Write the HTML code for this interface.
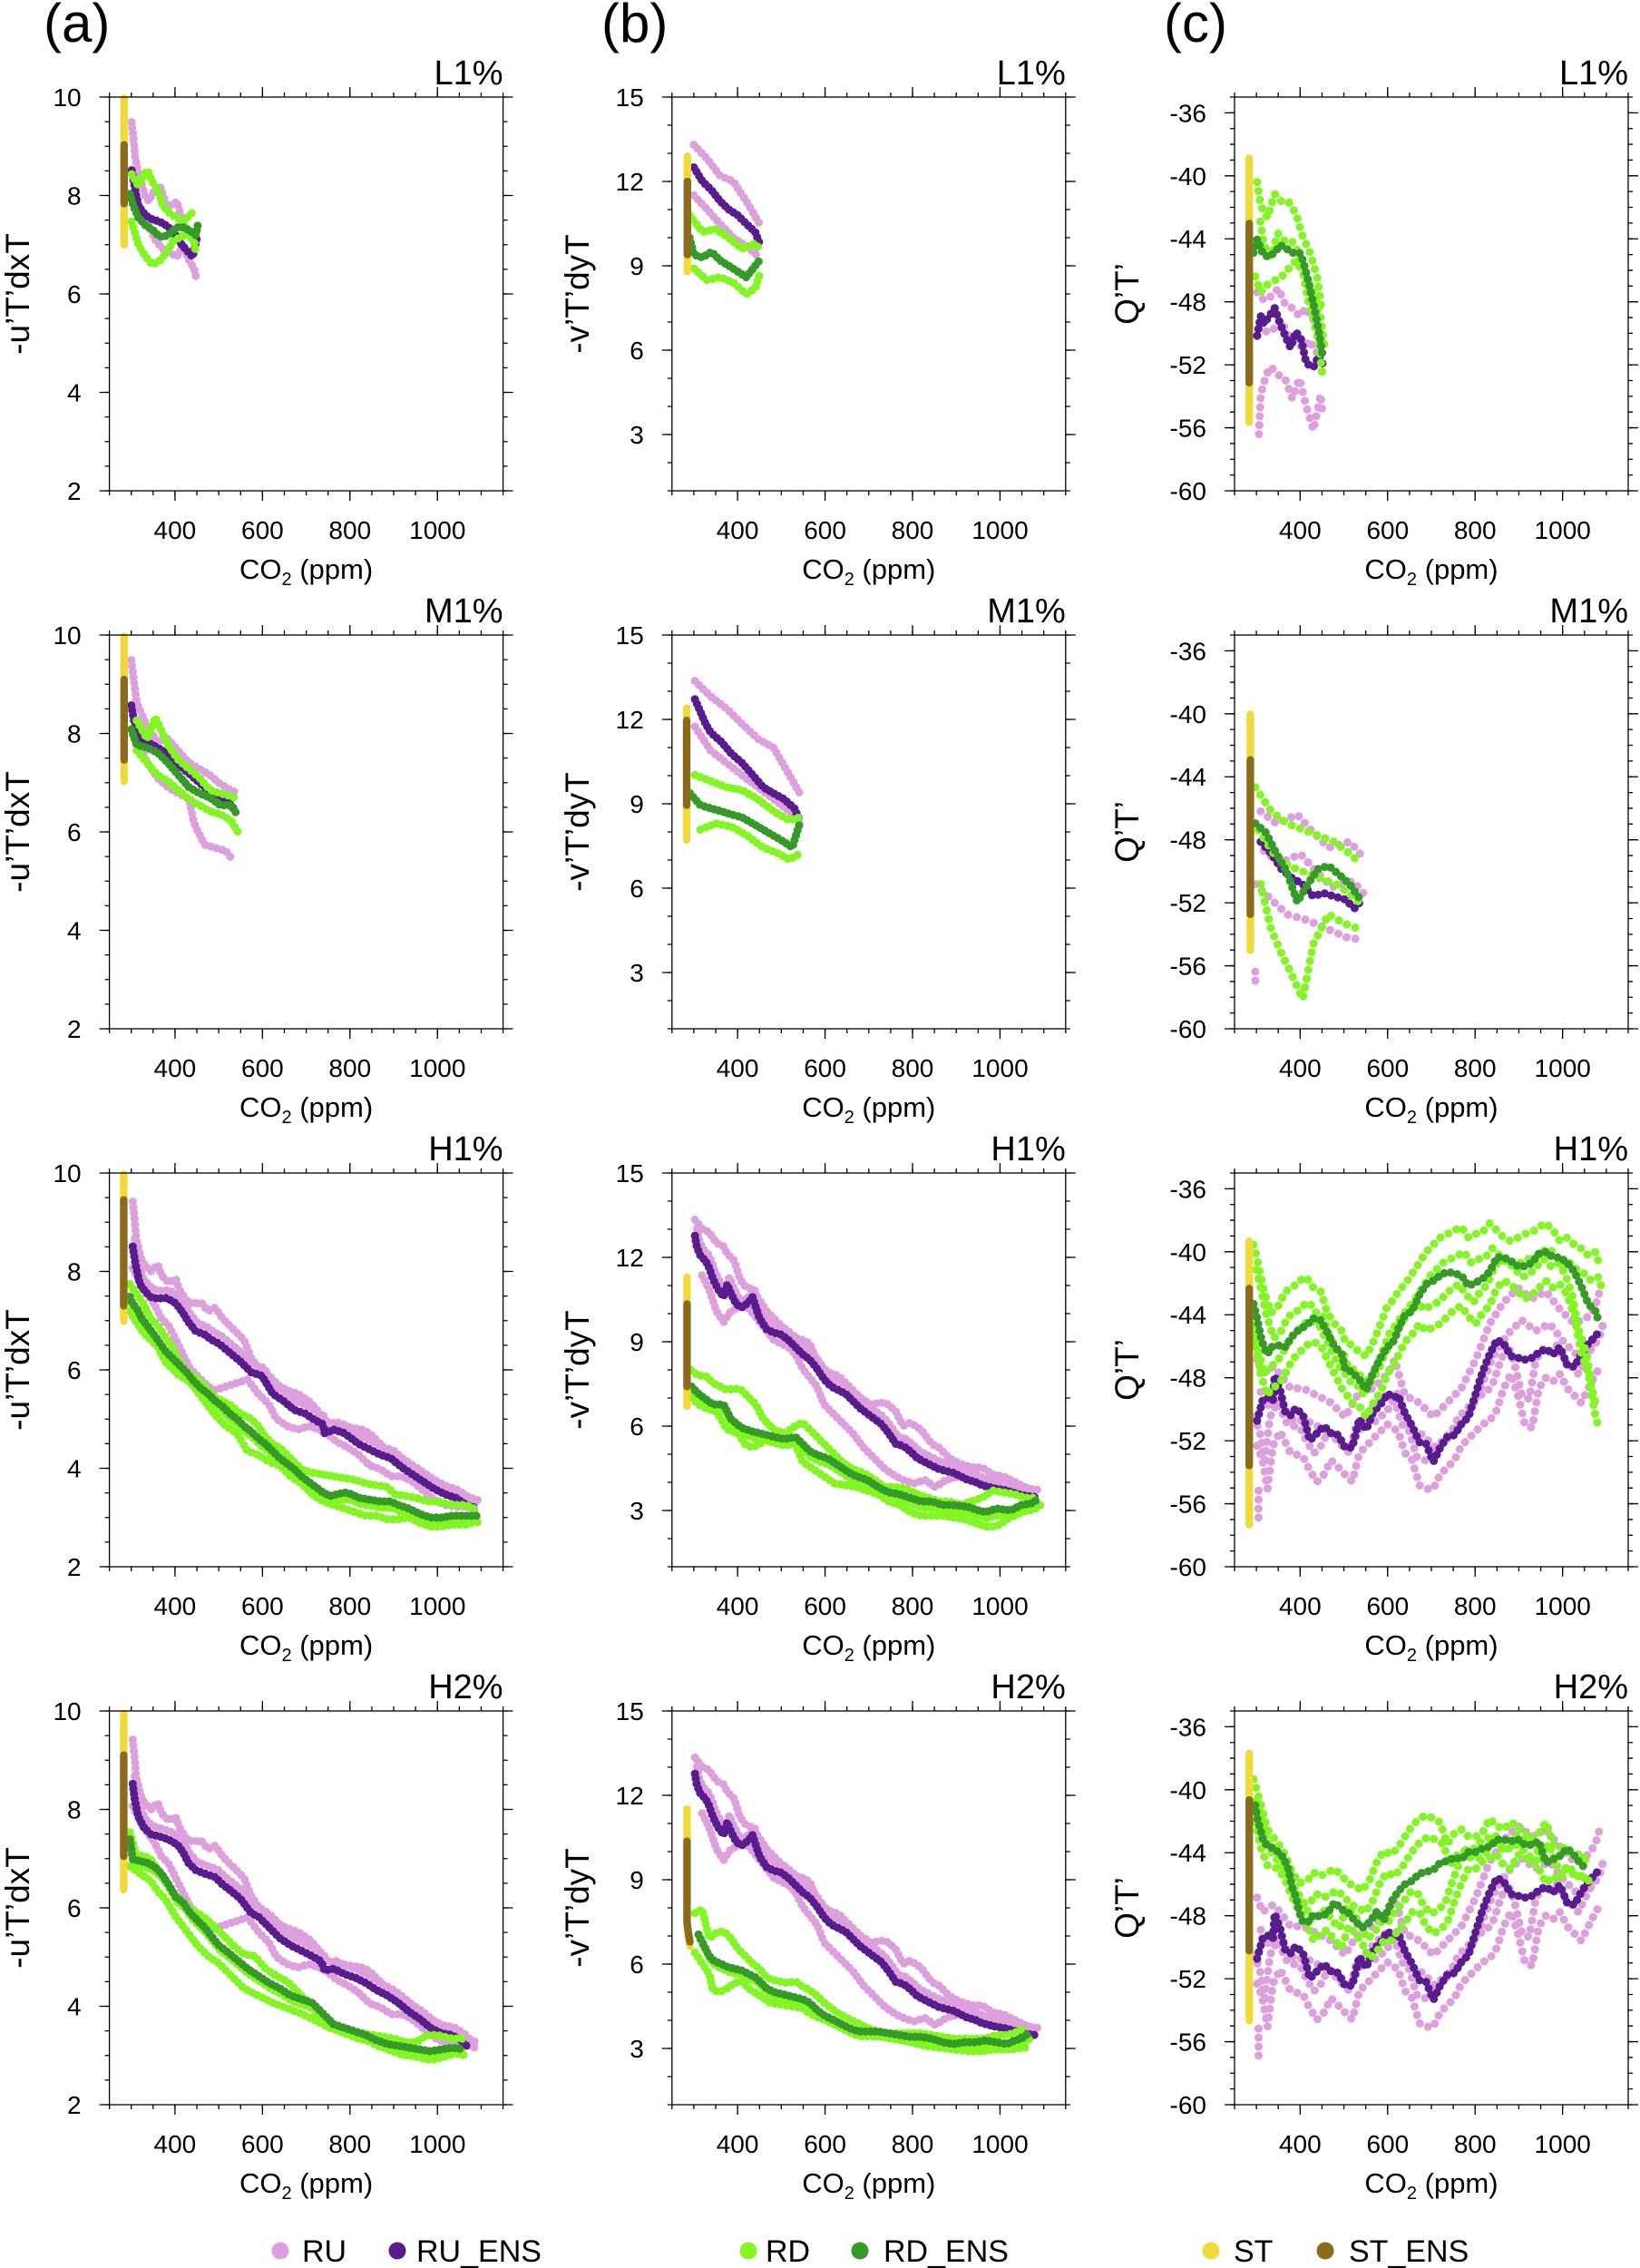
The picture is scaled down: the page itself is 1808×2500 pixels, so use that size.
<!DOCTYPE html>
<html><head><meta charset="utf-8"><title>Scatter panels</title>
<style>
html,body{margin:0;padding:0;background:#fff}
svg{display:block}
text{font-family:"Liberation Sans",Arial,Helvetica,sans-serif;fill:#000}
.fr{fill:none;stroke:#000;stroke-width:1.3}
.tk{stroke:#000;fill:none}
.tl{font-size:28px}
.tl text{text-anchor:end}
.xlb text{text-anchor:middle}
.tl text.co{font-size:31px;text-anchor:middle}
.tl text.yt{font-size:37px;text-anchor:middle}
.ttl{font-size:38px;text-anchor:end}
.pl{font-size:60px}
.lg{font-size:34px}
.s{fill:none;stroke-linecap:round;stroke-linejoin:round;stroke-width:23}
.ru{stroke:#DDA0DD;stroke-dasharray:0 16}
.rue{stroke:#581C8E;stroke-dasharray:0 14}
.rd{stroke:#82F522;stroke-dasharray:0 16}
.rde{stroke:#369A28;stroke-dasharray:0 14}
.st{stroke:#F0DA3A;stroke-width:21}
.ste{stroke:#8B6A1E;stroke-width:21}
.sc .ru,.sc .rd{stroke-dasharray:0 25}
.sc .rue,.sc .rde{stroke-dasharray:0 19}
</style></head>
<body>
<svg width="1808" height="2500" viewBox="0 0 1808 2500" xmlns="http://www.w3.org/2000/svg">
<defs>
<g id="xt" class="tk">
<line x1="-0.65" x2="435" y1="-2.5" y2="-2.5" stroke-width="5" stroke-dasharray="1.3 22.811"/>
<line x1="71.68" x2="363" y1="-5.5" y2="-5.5" stroke-width="11" stroke-dasharray="1.3 95.14"/>
<line x1="-0.65" x2="435" y1="436.5" y2="436.5" stroke-width="5" stroke-dasharray="1.3 22.811"/>
<line x1="71.68" x2="363" y1="439.5" y2="439.5" stroke-width="11" stroke-dasharray="1.3 95.14"/>
</g>
<g id="yta" class="tk">
<line x1="-2.5" x2="-2.5" y1="-0.65" y2="435" stroke-width="5" stroke-dasharray="1.3 25.825"/>
<line x1="-5.5" x2="-5.5" y1="-0.65" y2="435" stroke-width="11" stroke-dasharray="1.3 107.2"/>
<line x1="436.5" x2="436.5" y1="-0.65" y2="435" stroke-width="5" stroke-dasharray="1.3 25.825"/>
<line x1="439.5" x2="439.5" y1="-0.65" y2="435" stroke-width="11" stroke-dasharray="1.3 107.2"/>
</g>
<g id="ytb" class="tk">
<line x1="-2.5" x2="-2.5" y1="-0.65" y2="435" stroke-width="5" stroke-dasharray="1.3 29.7"/>
<line x1="-5.5" x2="-5.5" y1="-0.65" y2="373" stroke-width="11" stroke-dasharray="1.3 91.7"/>
<line x1="436.5" x2="436.5" y1="-0.65" y2="435" stroke-width="5" stroke-dasharray="1.3 29.7"/>
<line x1="439.5" x2="439.5" y1="-0.65" y2="373" stroke-width="11" stroke-dasharray="1.3 91.7"/>
</g>
<g id="ytc" class="tk">
<line x1="-2.5" x2="-2.5" y1="-0.65" y2="435" stroke-width="5" stroke-dasharray="1.3 16.06"/>
<line x1="-5.5" x2="-5.5" y1="16.71" y2="435" stroke-width="11" stroke-dasharray="1.3 68.14"/>
<line x1="436.5" x2="436.5" y1="-0.65" y2="435" stroke-width="5" stroke-dasharray="1.3 16.06"/>
<line x1="439.5" x2="439.5" y1="16.71" y2="435" stroke-width="11" stroke-dasharray="1.3 68.14"/>
</g>
<g id="xl" class="tl xlb">
<text x="72.3" y="487">400</text><text x="168.8" y="487">600</text><text x="265.2" y="487">800</text><text x="361.7" y="487">1000</text>
<text class="co" x="217" y="531">CO<tspan font-size="20" dy="7">2</tspan><tspan dy="-7"> (ppm)</tspan></text>
</g>
<g id="yla" class="tl"><text x="-31" y="10">10</text><text x="-31" y="118.5">8</text><text x="-31" y="227">6</text><text x="-31" y="335.5">4</text><text x="-31" y="444">2</text>
<text class="yt" transform="translate(-88.6,217) rotate(-90)">-u’T’dxT</text></g>
<g id="ylb" class="tl"><text x="-31" y="10">15</text><text x="-31" y="103">12</text><text x="-31" y="196">9</text><text x="-31" y="289">6</text><text x="-31" y="382">3</text>
<text class="yt" transform="translate(-91.8,217) rotate(-90)">-v’T’dyT</text></g>
<g id="ylc" class="tl"><text x="-31" y="27.4">-36</text><text x="-31" y="96.8">-40</text><text x="-31" y="166.2">-44</text><text x="-31" y="235.7">-48</text><text x="-31" y="305.1">-52</text><text x="-31" y="374.6">-56</text><text x="-31" y="444">-60</text>
<text class="yt" transform="translate(-106,217) rotate(-90)">Q’T’</text></g>

<polyline id="a3rue" points="65,205 73,255 85,310 100,330 115,345 135,350 160,348 185,363 205,390 220,415 240,440 265,450 285,465 305,475 335,500 365,525 395,555 425,565 455,615 485,635 515,660 545,670 575,690 595,700 600,725 625,715 655,725 695,755 725,770 755,785 785,795 815,820 845,840 875,860 905,880 935,895 965,905 995,925 1025,935"/>
<polyline id="a3ru1" points="65,80 70,125 75,185 90,245 115,275 135,255 145,285 165,305 185,295 195,325 215,355 235,365 255,360 275,385 295,375 315,405 345,435 375,465 395,515 415,545 445,565 475,595 495,605 525,615 555,635 575,655 595,685 615,700 645,705 675,710 705,715 725,725 755,755 775,785 795,805 825,825 855,845 885,865 915,880 945,885 975,900 1005,915 1025,925"/>
<polyline id="a3ru2" points="65,265 95,325 125,365 145,405 165,425 195,485 225,545 255,575 275,595 295,605 325,595 355,585 385,575 415,615 445,645 465,685 495,705 525,715 555,705 585,715 605,725 635,750 665,765 695,785 725,815 755,825 785,845 815,845 845,860 875,885 905,910 935,925 965,930 995,930 1025,940"/>
<polyline id="a3rde" points="57,345 65,365 75,375 90,405 105,425 120,445 135,465 155,495 175,515 195,535 215,555 235,580 255,600 275,615 295,635 315,650 335,670 355,685 375,705 395,720 415,740 435,755 455,775 475,795 495,810 515,825 535,845 555,860 575,875 595,890 615,900 635,895 655,890 675,895 695,905 725,910 755,915 785,915 805,925 835,935 865,950 895,960 925,960 955,955 985,955 1025,955"/>
<polyline id="a3rd1" points="57,310 75,335 95,365 115,405 135,425 155,455 175,485 195,525 215,555 235,565 255,585 275,605 295,625 315,635 335,645 365,670 395,685 415,705 435,735 455,755 475,765 505,795 535,825 565,835 595,840 625,845 655,850 685,855 715,865 745,870 775,875 795,895 825,900 855,905 885,915 915,915 955,925 995,925 1025,940"/>
<polyline id="a3rd2" points="57,385 75,415 95,445 115,465 135,485 155,525 175,545 195,565 215,575 235,595 265,635 295,675 325,705 355,725 385,775 415,785 445,805 475,815 505,845 535,865 565,895 595,915 625,925 655,935 685,945 715,955 745,955 775,965 805,965 835,960 865,975 895,985 925,985 955,980 995,980 1025,970"/>
<polyline id="a4rue" points="65,203 70,243 80,293 95,323 115,343 135,348 165,358 190,373 205,393 220,423 240,443 265,453 295,463 315,483 335,498 365,523 395,563 415,573 445,603 475,633 505,653 535,668 565,683 590,698 600,723 625,718 655,733 685,743 715,758 745,778 775,793 805,813 835,838 865,858 895,883 925,898 955,903 985,923 1000,938"/>
<polyline id="a4rde" points="57,358 65,413 85,418 105,423 125,433 145,453 165,483 185,518 205,533 225,563 245,583 265,603 285,628 305,653 325,668 355,693 385,718 415,738 445,758 475,773 505,793 535,803 565,813 595,843 625,873 655,883 685,893 715,903 745,918 775,928 805,933 835,938 865,943 895,948 925,943 955,938 985,943"/>
<polyline id="a4rd1" points="57,338 75,403 95,403 115,413 135,443 155,473 175,503 195,523 225,553 255,568 285,593 315,623 345,653 375,678 405,683 435,718 465,738 495,753 525,783 555,813 585,853 615,873 645,883 675,893 705,898 735,903 765,908 795,913 825,923 855,923 885,903 915,903 955,913 985,913"/>
<polyline id="a4rd2" points="57,433 85,453 115,473 135,503 155,523 185,573 215,613 245,653 275,683 305,703 335,733 375,773 415,793 455,813 495,828 535,843 575,863 615,883 655,898 695,913 735,923 775,943 815,958 855,963 895,973 935,963 985,948"/>

<polyline id="b3rue" points="64,175 69,205 79,230 94,245 104,265 114,295 129,325 144,345 154,310 164,335 179,365 194,375 214,360 224,345 234,375 244,405 264,435 284,445 304,450 324,465 344,485 364,505 384,520 404,545 424,575 444,595 464,605 484,615 504,635 524,655 544,670 564,685 584,700 604,725 624,755 644,760 664,775 684,795 704,805 724,815 744,825 764,830 784,835 804,845 824,855 844,860 864,870 884,875 904,880 934,885 964,895 989,900 1014,903"/>
<polyline id="b3ru1" points="64,130 84,155 104,165 124,195 144,205 154,225 174,245 189,295 204,315 224,325 244,355 264,385 284,405 304,425 334,455 364,465 384,475 404,525 434,555 464,565 494,595 524,625 554,645 584,640 604,645 624,665 644,705 664,695 694,715 724,755 744,765 774,795 804,810 834,820 864,820 894,840 924,845 954,860 984,875 1014,885"/>
<polyline id="b3ru2" points="84,285 104,325 124,385 144,415 164,385 204,365 244,415 284,465 324,485 344,505 364,545 404,595 424,645 444,665 474,695 504,725 534,765 564,795 594,825 624,845 644,855 674,865 704,855 734,875 764,855 804,845 844,855 884,865 914,875 944,890 984,895 1014,905"/>
<polyline id="b3rde" points="54,595 74,615 114,645 144,645 164,685 194,710 224,720 264,730 304,740 324,740 344,735 364,755 384,775 404,785 434,795 464,815 494,835 514,845 544,855 574,875 604,890 634,895 664,905 694,915 724,915 754,925 784,925 824,930 854,940 874,945 904,935 944,940 974,925 1004,920 1024,905"/>
<polyline id="b3rd1" points="54,550 74,565 94,565 114,585 134,595 154,605 174,600 194,605 214,625 234,645 254,685 284,715 314,725 344,705 364,695 384,715 404,735 424,755 444,775 474,805 504,825 534,835 564,855 594,875 624,875 654,880 684,895 714,905 744,915 774,915 804,925 834,915 864,905 894,885 924,890 954,895 984,905 1014,905"/>
<polyline id="b3rd2" points="54,625 74,645 94,655 124,665 154,715 184,725 204,755 224,765 244,755 264,740 284,745 314,735 344,755 364,805 394,825 424,845 454,865 484,870 514,875 544,885 574,895 604,915 634,925 664,945 694,955 724,955 754,955 784,960 814,965 844,975 874,985 904,985 934,965 964,945 994,935 1024,925"/>
<polyline id="b4rde" points="74,623 84,643 94,663 104,683 119,698 134,703 154,713 174,718 194,723 214,733 234,743 249,758 264,773 284,783 304,788 324,793 344,798 364,803 384,813 404,833 424,848 444,858 464,868 484,878 504,888 524,893 544,893 574,893 604,898 634,903 664,908 694,908 724,913 754,923 784,928 814,923 844,923 874,918 904,923 934,928 954,918 974,913 994,898"/>
<polyline id="b4rd1" points="64,563 84,553 104,633 124,618 144,613 164,633 184,663 204,683 224,703 244,718 264,743 294,753 324,758 344,753 364,768 384,778 404,793 424,813 444,828 464,843 484,853 514,868 544,883 574,893 604,898 634,898 664,898 694,898 724,903 754,908 784,913 814,913 844,913 874,913 904,903 934,903 964,893 984,883"/>
<polyline id="b4rd2" points="64,673 84,703 104,733 114,778 134,783 154,773 174,758 194,753 214,773 244,793 274,813 304,818 334,823 364,828 384,843 404,853 434,863 464,878 494,893 524,898 554,903 584,908 624,913 664,923 704,933 744,938 784,943 824,948 864,948 904,943 944,943 984,938"/>

<polyline id="c3rue" points="63,690 78,635 92,625 107,635 112,565 127,605 141,665 156,675 171,655 191,675 210,745 230,725 249,705 269,725 289,730 308,765 328,765 348,685 367,715 387,665 407,645 426,615 446,625 456,620 475,670 495,705 515,750 534,755 554,805 573,765 593,735 613,730 632,700 652,680 672,615 691,555 711,505 731,465 750,475 770,510 790,515 809,520 829,515 848,500 868,490 888,505 907,485 927,535 947,540 966,505 986,475 1006,455 1020,435"/>
<polyline id="c3ru1" points="63,520 78,560 107,540 127,560 156,600 191,600 230,620 269,640 308,680 348,610 387,600 426,560 446,520 475,620 515,640 554,680 593,640 632,600 672,520 711,420 750,360 790,320 829,350 868,330 907,380 947,420 986,400 1006,370 1020,320"/>
<polyline id="c3ru2" points="63,760 78,800 92,880 107,760 127,720 156,780 191,790 210,830 230,860 249,840 269,800 289,820 308,840 328,860 348,780 387,740 426,700 456,720 475,780 495,800 515,870 534,880 554,880 573,840 593,820 613,800 632,760 652,740 672,720 691,700 711,690 731,660 750,600 770,560 790,620 809,700 829,710 848,600 868,570 888,580 907,560 927,600 947,620 966,640 986,600 1006,560 1020,540"/>
<polyline id="c3rde" points="53,365 63,405 73,455 82,485 92,505 102,485 122,480 141,485 161,455 181,435 200,425 220,405 240,410 259,445 279,485 299,505 308,545 328,555 348,575 367,605 387,555 407,515 426,485 446,465 456,435 475,395 495,385 515,340 534,310 554,300 573,285 593,275 613,280 632,285 652,315 672,305 691,295 711,275 731,235 750,235 770,245 790,260 809,260 829,250 848,225 868,220 888,235 907,235 927,250 947,275 966,315 986,365 1006,385 1015,415"/>
<polyline id="c3rd1" points="53,200 63,240 82,330 102,390 122,370 141,330 161,320 181,300 200,290 220,320 240,330 259,390 279,420 299,440 308,470 328,480 348,500 367,510 387,470 407,420 426,370 446,350 456,330 475,310 495,280 515,250 534,220 554,200 573,180 593,170 613,160 632,150 652,180 672,170 691,165 711,140 731,160 750,180 770,190 790,180 809,170 829,165 848,150 868,140 888,160 907,190 927,180 947,200 966,210 986,230 1006,220 1015,250"/>
<polyline id="c3rd2" points="53,460 63,500 73,560 82,590 92,620 102,600 122,590 141,560 161,520 181,500 200,480 220,470 240,480 259,520 279,560 299,600 308,610 328,640 348,650 367,680 387,640 407,610 426,560 446,530 456,510 475,470 495,450 515,420 534,440 554,430 573,420 593,400 613,380 632,370 652,400 672,420 691,390 711,370 731,320 750,300 770,310 790,330 809,350 829,340 848,320 868,300 888,320 907,310 927,340 947,400 966,500 986,560 1006,680 1015,710"/>
<polyline id="c4rde" points="58,263 63,298 73,333 82,368 92,373 107,383 122,393 136,408 151,443 161,493 171,518 181,563 191,588 205,588 220,568 240,573 259,563 279,533 299,553 318,563 338,588 357,603 377,588 397,558 416,583 436,533 456,503 475,483 495,473 515,453 534,448 554,443 573,423 593,418 613,408 632,413 652,393 672,393 691,383 711,378 731,358 750,358 770,363 790,358 809,373 829,373 848,363 868,423 888,413 907,403 927,383 947,403 966,428 986,443"/>
<polyline id="c4rd1" points="53,190 73,260 92,330 107,350 122,370 141,400 161,450 181,480 205,470 220,450 240,460 259,450 279,440 299,460 318,480 338,490 357,500 377,470 397,420 416,390 436,400 456,380 475,350 495,320 515,300 534,290 554,300 573,310 593,370 613,340 632,330 652,350 672,350 691,340 711,300 731,320 750,330 770,310 790,320 809,340 829,360 848,340 868,310 888,370 907,380 927,390 947,400 966,400 986,420"/>
<polyline id="c4rd2" points="58,310 73,380 92,430 122,440 141,470 161,520 181,560 205,600 220,640 240,620 259,610 279,640 299,660 318,600 338,620 357,650 377,690 397,670 416,640 436,640 456,610 475,590 495,560 515,560 534,600 554,620 573,610 593,590 613,530 632,480 652,440 672,440 691,420 711,410 731,400 750,430 770,440 790,400 809,410 829,420 848,440 868,480 888,460 907,470 927,430 947,450 966,470 986,460"/>

<polyline id="c1ru1" points="63,544 82,566 102,555 122,533 141,577 161,588 181,610 200,588 220,621 240,610"/>
<polyline id="c1rd1" points="63,237 73,303 92,336 112,270 132,292 151,292 171,325 191,391 210,434 230,500 242,588"/>
<polyline id="c2ru1" points="73,491 117,525 175,500 219,550 262,592 321,576 350,609"/>
<polyline id="c2rd1" points="58,424 102,491 146,525 190,542 233,559 277,576 321,609 350,635"/>
</defs>

<text class="pl" x="48" y="46">(a)</text>
<text class="pl" x="663" y="46">(b)</text>
<text class="pl" x="1283" y="46">(c)</text>

<!-- ROW 1 -->
<g transform="translate(120.6,107)">
<g transform="scale(0.39562)">
<polyline class="s ru" points="62,70 67,114 72,169 81,213 101,279 110,290 120,268 140,246 159,301 178,301 188,290 207,357 227,379 241,412"/>
<polyline class="s ru" points="72,303 91,336 110,358 130,401 149,423 169,434 188,445 207,412 217,445 236,478 241,500"/>
<polyline class="s rue" points="62,204 72,259 81,303 101,330 120,341 140,347 159,358 178,374 198,407 217,429 232,445 244,391"/>
<polyline class="s rd" points="62,215 81,248 96,215 106,204 120,237 135,259 149,303 169,325 188,336 207,347 227,325 241,314"/>
<polyline class="s rd" points="62,347 81,412 101,445 120,467 140,456 159,434 178,401 198,390 217,380 236,401 241,434"/>
<polyline class="s rde" points="57,270 67,303 81,336 101,358 120,369 135,385 149,391 169,380 188,363 207,363 227,374 241,385 246,358"/>
<line class="s st" x1="41" y1="4" x2="41" y2="412"/>
<line class="s ste" x1="41" y1="133" x2="41" y2="297"/>
</g>
<rect class="fr" width="434" height="434"/><use href="#xt"/><use href="#yta"/><use href="#xl"/><use href="#yla"/>
<text class="ttl" x="434" y="-14">L1%</text>
</g>

<g transform="translate(740.8,107)">
<g transform="scale(0.39562)">
<polyline class="s ru" points="61,133 98,172 134,219 171,235 207,290 244,353"/>
<polyline class="s ru" points="61,274 98,313 134,353 171,392 207,415 244,447"/>
<polyline class="s rue" points="61,196 85,235 110,259 134,290 158,313 183,329 207,353 232,376 244,408"/>
<polyline class="s rd" points="49,329 85,376 122,368 158,392 195,423 232,408 244,423"/>
<polyline class="s rd" points="61,478 98,510 134,502 171,517 207,549 232,533 244,494"/>
<polyline class="s rde" points="49,392 61,439 85,447 110,431 134,455 158,470 183,486 207,502 232,470 244,455"/>
<line class="s st" x1="43" y1="165" x2="43" y2="486"/>
<line class="s ste" x1="43" y1="235" x2="43" y2="439"/>
</g>
<rect class="fr" width="434" height="434"/><use href="#xt"/><use href="#ytb"/><use href="#xl"/><use href="#ylb"/>
<text class="ttl" x="434" y="-14">L1%</text>
</g>

<g transform="translate(1361,107)">
<g transform="scale(0.39562)" class="sc">
<use href="#c1ru1" class="s ru"/><use href="#c1ru1" class="s ru" transform="translate(9,90)"/>
<polyline class="s ru" points="68,939 73,829 88,774 102,752 122,774 141,785 161,840 181,785 200,862 220,928 240,829 245,884"/>
<polyline class="s rue" points="63,665 73,610 82,632 97,610 112,588 127,632 141,665 156,698 171,654 186,676 200,742 220,753 235,720 245,742"/>
<use href="#c1rd1" class="s rd"/><use href="#c1rd1" class="s rd" transform="translate(9,110)"/>
<polyline class="s rd" points="58,500 73,544 92,522 112,511 132,500 151,478 171,456 191,489 205,566 220,621 235,687 245,774"/>
<polyline class="s rde" points="53,434 63,396 78,434 92,445 112,434 127,412 146,423 161,434 181,434 191,456 205,511 215,555 225,599 235,654 242,698 247,731"/>
<line class="s st" x1="41" y1="171" x2="41" y2="906"/>
<line class="s ste" x1="41" y1="352" x2="41" y2="796"/>
</g>
<rect class="fr" width="434" height="434"/><use href="#xt"/><use href="#ytc"/><use href="#xl"/><use href="#ylc"/>
<text class="ttl" x="434" y="-14">L1%</text>
</g>

<!-- ROW 2 -->
<g transform="translate(120.6,700)">
<g transform="scale(0.39562)">
<polyline class="s ru" points="61,70 76,188 105,255 134,297 163,289 192,323 222,356 251,373 280,390 309,415 338,432 359,441"/>
<polyline class="s ru" points="76,289 105,356 134,398 163,424 192,441 222,457 236,525 265,584 295,593 324,601 344,627"/>
<polyline class="s rue" points="61,196 70,246 90,289 120,306 149,322 178,348 207,373 236,398 265,424 295,441 324,457 353,491"/>
<polyline class="s rd" points="76,238 105,289 128,230 163,306 192,348 222,373 251,398 280,432 309,441 338,449 359,457"/>
<polyline class="s rd" points="76,322 105,356 134,390 163,407 192,432 222,457 251,474 280,491 309,499 338,516 359,550"/>
<polyline class="s rde" points="61,263 76,306 105,314 134,327 163,356 192,390 222,424 251,441 280,453 309,474 338,474 359,504"/>
<line class="s st" x1="41" y1="4" x2="41" y2="407"/>
<line class="s ste" x1="41" y1="124" x2="41" y2="348"/>
</g>
<rect class="fr" width="434" height="434"/><use href="#xt"/><use href="#yta"/><use href="#xl"/><use href="#yla"/>
<text class="ttl" x="434" y="-14">M1%</text>
</g>

<g transform="translate(740.8,700)">
<g transform="scale(0.39562)">
<polyline class="s ru" points="64,128 108,171 152,205 195,247 239,289 283,314 327,390 356,441"/>
<polyline class="s ru" points="64,255 108,322 152,356 195,390 239,424 283,457 327,491 356,525"/>
<polyline class="s rue" points="64,179 79,213 93,246 108,272 137,297 166,331 195,356 225,390 254,424 283,441 312,457 341,483 356,517"/>
<polyline class="s rd" points="64,390 108,407 152,424 195,432 239,457 283,491 327,516 356,508"/>
<polyline class="s rd" points="79,542 122,525 166,534 210,559 254,592 298,609 327,626 356,609"/>
<polyline class="s rde" points="50,441 79,474 108,483 137,491 166,500 195,508 225,525 254,542 283,559 312,576 335,592 356,525"/>
<line class="s st" x1="41" y1="204" x2="41" y2="571"/>
<line class="s ste" x1="41" y1="238" x2="41" y2="474"/>
</g>
<rect class="fr" width="434" height="434"/><use href="#xt"/><use href="#ytb"/><use href="#xl"/><use href="#ylb"/>
<text class="ttl" x="434" y="-14">M1%</text>
</g>

<g transform="translate(1361,700)">
<g transform="scale(0.39562)" class="sc">
<use href="#c2ru1" class="s ru"/><use href="#c2ru1" class="s ru" transform="translate(9,110)"/>
<polyline class="s ru" points="58,694 102,736 146,778 204,795 262,820 321,846 350,846"/>
<line class="s ru" x1="58" y1="938" x2="58" y2="981"/>
<polyline class="s rue" points="73,576 102,609 131,652 160,677 190,694 219,728 248,719 277,728 306,736 335,761 350,744"/>
<use href="#c2rd1" class="s rd"/><use href="#c2rd1" class="s rd" transform="translate(9,120)"/>
<polyline class="s rd" points="73,694 102,820 131,888 160,947 190,1014 219,862 262,778 306,804 350,820"/>
<polyline class="s rde" points="58,525 87,550 117,609 146,660 175,744 204,694 233,652 262,643 292,668 321,694 350,736"/>
<line class="s st" x1="44" y1="221" x2="44" y2="879"/>
<line class="s ste" x1="44" y1="348" x2="44" y2="778"/>
</g>
<rect class="fr" width="434" height="434"/><use href="#xt"/><use href="#ytc"/><use href="#xl"/><use href="#ylc"/>
<text class="ttl" x="434" y="-14">M1%</text>
</g>

<!-- ROW 3 -->
<g transform="translate(120.6,1293)">
<g transform="scale(0.39562)">
<use href="#a3ru1" class="s ru"/><use href="#a3ru2" class="s ru"/><use href="#a3rue" class="s ru" transform="translate(6,-22)"/>
<use href="#a3rue" class="s rue"/>
<use href="#a3rd1" class="s rd"/><use href="#a3rd2" class="s rd"/><use href="#a3rde" class="s rd" transform="translate(5,18)"/>
<use href="#a3rde" class="s rde"/>
<line class="s st" x1="40" y1="4" x2="40" y2="413"/>
<line class="s ste" x1="40" y1="75" x2="40" y2="370"/>
</g>
<rect class="fr" width="434" height="434"/><use href="#xt"/><use href="#yta"/><use href="#xl"/><use href="#yla"/>
<text class="ttl" x="434" y="-14">H1%</text>
</g>

<g transform="translate(740.8,1293)">
<g transform="scale(0.39562)">
<use href="#b3ru1" class="s ru"/><use href="#b3ru2" class="s ru"/><use href="#b3rue" class="s ru" transform="translate(6,-20)"/>
<use href="#b3rue" class="s rue"/>
<use href="#b3rd1" class="s rd"/><use href="#b3rd2" class="s rd"/><use href="#b3rde" class="s rd" transform="translate(5,18)"/>
<use href="#b3rde" class="s rde"/>
<line class="s st" x1="42" y1="290" x2="42" y2="650"/>
<line class="s ste" x1="42" y1="365" x2="42" y2="595"/>
</g>
<rect class="fr" width="434" height="434"/><use href="#xt"/><use href="#ytb"/><use href="#xl"/><use href="#ylb"/>
<text class="ttl" x="434" y="-14">H1%</text>
</g>

<g transform="translate(1361,1293)">
<g transform="scale(0.39562)" class="sc">
<use href="#c3ru1" class="s ru"/><use href="#c3ru2" class="s ru"/>
<use href="#c3ru1" class="s ru" transform="translate(10,90)"/>
<use href="#c3ru2" class="s ru" transform="translate(-8,-80)"/>
<line class="s ru" x1="67" y1="885" x2="67" y2="975"/>
<use href="#c3rue" class="s rue"/>
<use href="#c3rd1" class="s rd"/><use href="#c3rd2" class="s rd"/>
<use href="#c3rd1" class="s rd" transform="translate(8,70)"/>
<use href="#c3rd2" class="s rd" transform="translate(-6,-60)"/>
<use href="#c3rde" class="s rde"/>
<line class="s st" x1="41" y1="190" x2="41" y2="980"/>
<line class="s ste" x1="41" y1="322" x2="41" y2="815"/>
</g>
<rect class="fr" width="434" height="434"/><use href="#xt"/><use href="#ytc"/><use href="#xl"/><use href="#ylc"/>
<text class="ttl" x="434" y="-14">H1%</text>
</g>

<!-- ROW 4 -->
<g transform="translate(120.6,1886)">
<g transform="scale(0.39562)">
<use href="#a3ru1" class="s ru"/><use href="#a3ru2" class="s ru"/><use href="#a4rue" class="s ru" transform="translate(6,-22)"/>
<use href="#a4rue" class="s rue"/>
<use href="#a4rd1" class="s rd"/><use href="#a4rd2" class="s rd"/><use href="#a4rde" class="s rd" transform="translate(5,16)"/>
<use href="#a4rde" class="s rde"/>
<line class="s st" x1="40" y1="8" x2="40" y2="498"/>
<line class="s ste" x1="40" y1="123" x2="40" y2="405"/>
</g>
<rect class="fr" width="434" height="434"/><use href="#xt"/><use href="#yta"/><use href="#xl"/><use href="#yla"/>
<text class="ttl" x="434" y="-14">H2%</text>
</g>

<g transform="translate(740.8,1886)">
<g transform="scale(0.39562)">
<use href="#b3ru1" class="s ru"/><use href="#b3ru2" class="s ru"/><use href="#b3rue" class="s ru" transform="translate(6,-20)"/>
<use href="#b3rue" class="s rue"/>
<use href="#b4rd1" class="s rd"/><use href="#b4rd2" class="s rd"/><use href="#b4rde" class="s rd" transform="translate(5,14)"/>
<use href="#b4rde" class="s rde"/>
<polyline class="s st" points="42,273 42,590 46,630 50,655"/>
<polyline class="s ste" points="42,363 42,590 46,620 50,643"/>
</g>
<rect class="fr" width="434" height="434"/><use href="#xt"/><use href="#ytb"/><use href="#xl"/><use href="#ylb"/>
<text class="ttl" x="434" y="-14">H2%</text>
</g>

<g transform="translate(1361,1886)">
<g transform="scale(0.39562)" class="sc">
<use href="#c3ru1" class="s ru"/><use href="#c3ru2" class="s ru"/>
<use href="#c3ru1" class="s ru" transform="translate(10,90)"/>
<use href="#c3ru2" class="s ru" transform="translate(-8,-80)"/>
<line class="s ru" x1="67" y1="885" x2="67" y2="975"/>
<use href="#c3rue" class="s rue"/>
<use href="#c4rd1" class="s rd"/><use href="#c4rd2" class="s rd"/>
<use href="#c4rd1" class="s rd" transform="translate(8,60)"/>
<use href="#c4rd2" class="s rd" transform="translate(-6,-55)"/>
<use href="#c4rde" class="s rde"/>
<line class="s st" x1="41" y1="118" x2="41" y2="863"/>
<line class="s ste" x1="41" y1="248" x2="41" y2="668"/>
</g>
<rect class="fr" width="434" height="434"/><use href="#xt"/><use href="#ytc"/><use href="#xl"/><use href="#ylc"/>
<text class="ttl" x="434" y="-14">H2%</text>
</g>

<!-- LEGEND -->
<g class="lg">
<circle cx="309" cy="2481" r="9.5" fill="#DDA0DD"/><text x="333" y="2493">RU</text>
<circle cx="438" cy="2481" r="9.5" fill="#581C8E"/><text x="459" y="2493">RU_ENS</text>
<circle cx="825" cy="2481" r="9.5" fill="#82F522"/><text x="844" y="2493">RD</text>
<circle cx="948" cy="2481" r="9.5" fill="#369A28"/><text x="974" y="2493">RD_ENS</text>
<circle cx="1335" cy="2481" r="9.5" fill="#F0DA3A"/><text x="1360" y="2493">ST</text>
<circle cx="1461" cy="2481" r="9.5" fill="#8B6A1E"/><text x="1487" y="2493">ST_ENS</text>
</g>
</svg>
</body></html>
